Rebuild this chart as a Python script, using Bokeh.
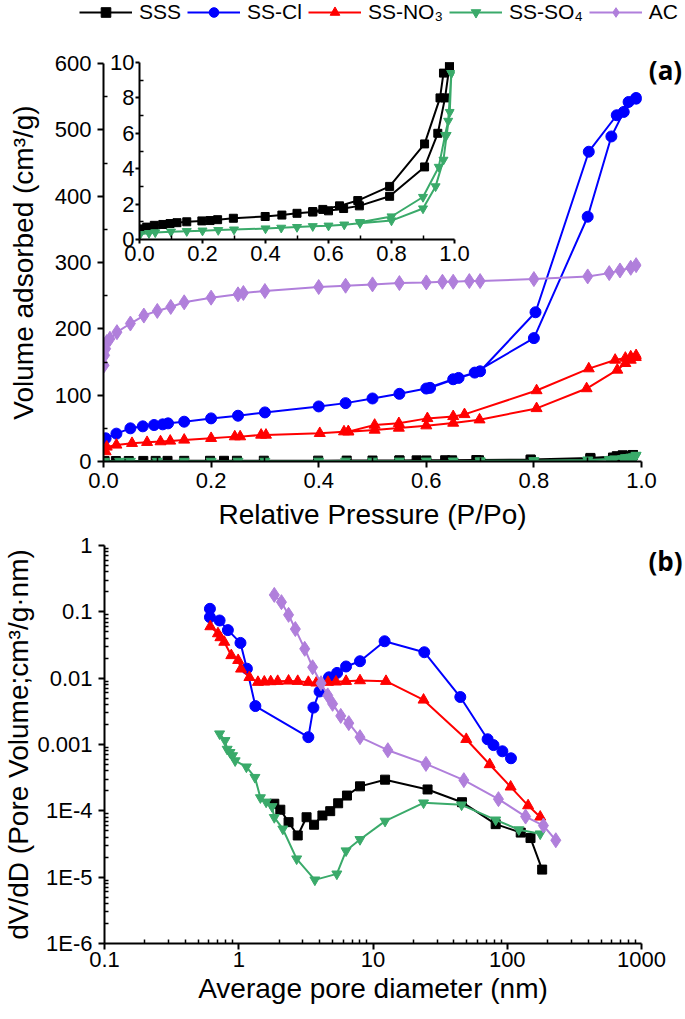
import numpy as np
from bokeh.plotting import figure
from bokeh.models import Range1d, FixedTicker, Legend, LegendItem, Label, CustomJSTickFormatter
from bokeh.embed import file_html
from bokeh.resources import INLINE

# ---------------- data ----------------
legend_labels = ["SSS", "SS-Cl", "SS-NO₃", "SS-SO₄", "AC"]
colors = ["#000000", "#0000ff", "#ff0000", "#3aaa6a", "#b07fdb"]
markers = ["square", "circle", "triangle", "inverted_triangle", "diamond"]
sizes = [9, 11, 11, 10, 15]

# (a) N2 isotherms: relative pressure / volume adsorbed (cm3/g)
sss_ads_p = [0.002, 0.023, 0.047, 0.074, 0.097, 0.119, 0.15, 0.198, 0.224, 0.248, 0.298, 0.399,
             0.452, 0.5, 0.55, 0.6, 0.648, 0.698, 0.794, 0.905, 0.947, 0.97, 0.984]
sss_ads_v = [0.6, 0.7, 0.8, 0.85, 0.9, 0.95, 1.0, 1.05, 1.07, 1.12, 1.2, 1.3,
             1.38, 1.48, 1.55, 1.62, 1.75, 1.9, 2.44, 4.1, 6.0, 8.0, 9.8]
sss_des_p = [0.984, 0.965, 0.954, 0.905, 0.794, 0.693, 0.635, 0.582, 0.55]
sss_des_v = [9.8, 9.4, 8.0, 5.4, 3.0, 2.2, 1.9, 1.7, 1.58]

cl_ads_p = [0.004, 0.024, 0.05, 0.073, 0.094, 0.11, 0.12, 0.15, 0.2, 0.25, 0.3, 0.4, 0.45, 0.5,
            0.55, 0.6, 0.65, 0.69, 0.8, 0.9, 0.944, 0.967, 0.99]
cl_ads_v = [35, 42, 50, 53, 55, 56, 57.5, 60, 65, 69, 74, 83, 88, 95,
            102, 110, 124, 134, 186, 369, 490, 527, 547]
cl_des_p = [0.99, 0.976, 0.954, 0.902, 0.803, 0.7, 0.66, 0.607]
cl_des_v = [548, 542, 522, 467, 225, 136, 126, 111]

no3_ads_p = [0.004, 0.006, 0.024, 0.053, 0.081, 0.106, 0.124, 0.15, 0.2, 0.244, 0.254, 0.293, 0.302,
             0.402, 0.447, 0.455, 0.504, 0.549, 0.6, 0.65, 0.699, 0.805, 0.898, 0.955, 0.97, 0.98, 0.99]
no3_ads_v = [15, 22, 25, 27.5, 29, 30, 31, 32.5, 35, 37.5, 37.5, 40, 40,
             42.5, 45, 45, 47.5, 50.5, 54, 58, 63, 80, 110, 138, 148, 153, 157]
no3_des_p = [0.99, 0.98, 0.97, 0.951, 0.902, 0.805, 0.671, 0.65, 0.602, 0.549, 0.504, 0.455]
no3_des_v = [160, 158, 156, 153, 140, 107, 71, 68, 65, 57.5, 55, 45]

so4_ads_p = [0.002, 0.03, 0.05, 0.1, 0.15, 0.2, 0.25, 0.3, 0.4, 0.45, 0.5, 0.55, 0.6, 0.65, 0.7,
             0.8, 0.9, 0.94, 0.965, 0.975, 0.985, 0.99]
so4_ads_v = [0.3, 0.36, 0.4, 0.44, 0.47, 0.5, 0.53, 0.56, 0.62, 0.66, 0.7, 0.75, 0.78, 0.84, 0.92,
             1.07, 1.75, 3.0, 4.5, 5.9, 7.2, 9.4]
so4_des_p = [0.99, 0.98, 0.97, 0.95, 0.9, 0.8, 0.7]
so4_des_v = [9.4, 6.7, 5.9, 4.1, 2.4, 1.3, 0.98]

ac_p = [0.001, 0.002, 0.004, 0.006, 0.012, 0.025, 0.05, 0.075, 0.1, 0.125, 0.15, 0.2, 0.25, 0.26, 0.3,
        0.4, 0.45, 0.5, 0.55, 0.6, 0.63, 0.65, 0.68, 0.7, 0.8, 0.9, 0.94, 0.96, 0.98, 0.99]
ac_v = [145, 160, 170, 180, 185, 195, 208, 220, 227, 233, 240, 247, 252, 254, 257,
        263, 265, 267, 269, 270, 271, 271, 272, 272, 275, 279, 284, 288, 292, 296]

# (b) pore size distributions: average pore diameter (nm) / dV/dD
psd_sss_d = [1.84, 2.04, 2.35, 2.75, 3.2, 3.64, 4.2, 4.8, 5.5, 6.4, 8.0, 12.3, 25.5, 46, 82, 126, 149, 182]
psd_sss_y = [1.28e-4, 1.04e-4, 6.75e-5, 4.25e-5, 8.0e-5, 6.17e-5, 8.5e-5, 9.89e-5, 1.3e-4, 1.7e-4,
             2.34e-4, 2.95e-4, 2.1e-4, 1.35e-4, 6.3e-5, 4.7e-5, 3.89e-5, 1.3e-5]

psd_cl_d = [0.61, 0.61, 0.72, 0.83, 1.03, 1.15, 1.33, 3.3, 3.6, 4.0, 4.7, 5.4, 6.3, 8.0, 12.2,
            24.1, 44.7, 71.4, 79, 92, 106.6]
psd_cl_y = [0.111, 0.083, 0.074, 0.053, 0.034, 0.0139, 0.0038, 0.00129, 0.0036, 0.0063, 0.0103,
            0.012, 0.015, 0.018, 0.036, 0.0246, 0.0052, 0.0012, 0.00098, 0.00079, 0.00062]

psd_no3_d = [0.614, 0.70, 0.73, 0.78, 0.88, 0.99, 1.04, 1.2, 1.39, 1.55, 1.73, 1.95, 2.35, 2.75,
             3.3, 3.78, 4.62, 5.3, 6.3, 8.0, 12.5, 23.8, 49.5, 74, 106, 143, 176]
psd_no3_y = [0.060, 0.047, 0.041, 0.035, 0.022, 0.0186, 0.0138, 0.0103, 0.0087, 0.0088, 0.0089,
             0.009, 0.0091, 0.009, 0.0087, 0.0085, 0.0087, 0.0088, 0.009, 0.0092, 0.009, 0.0047,
             0.0012, 0.0005, 0.00023, 0.00012, 0.000081]

psd_so4_d = [0.72, 0.79, 0.82, 0.86, 0.9, 0.94, 1.14, 1.32, 1.45, 1.6, 1.77, 1.84, 2.13, 2.7,
             3.69, 5.38, 6.3, 8.0, 12.3, 23.8, 45.7, 82, 122, 176]
psd_so4_y = [0.00145, 0.00115, 0.00085, 0.00076, 0.00068, 0.00057, 0.00046, 0.00032, 0.000158,
             0.000136, 0.000116, 7.95e-5, 5.33e-5, 1.89e-5, 9.1e-6, 1.12e-5, 2.5e-5, 3.7e-5,
             7.0e-5, 1.32e-4, 1.23e-4, 7.3e-5, 5.2e-5, 4.5e-5]

psd_ac_d = [1.84, 2.08, 2.35, 2.64, 3.1, 3.55, 4.1, 4.6, 5.0, 5.75, 6.6, 8.0, 12.9, 24.8, 47.5,
            86, 137, 186, 230]
psd_ac_y = [0.18, 0.14, 0.09, 0.055, 0.0277, 0.0146, 0.0084, 0.0055, 0.0041, 0.0027, 0.0021,
            0.00129, 0.00082, 0.00051, 0.00029, 0.00015, 8.2e-5, 6.0e-5, 3.6e-5]

# tick values
a_x_ticks = [0.0, 0.2, 0.4, 0.6, 0.8, 1.0]
a_x_minor = [0.1, 0.3, 0.5, 0.7, 0.9]
a_y_ticks = [0, 100, 200, 300, 400, 500, 600]
a_y_minor = [50, 150, 250, 350, 450, 550]
in_y_ticks = [0, 2, 4, 6, 8, 10]
in_y_minor = [1, 3, 5, 7, 9]
b_x_ticks = [0.1, 1, 10, 100, 1000]
b_y_ticks = [1e-6, 1e-5, 1e-4, 1e-3, 1e-2, 1e-1, 1]

iso = [
    (sss_ads_p + sss_des_p, sss_ads_v + sss_des_v),
    (cl_ads_p + cl_des_p, cl_ads_v + cl_des_v),
    (no3_ads_p + no3_des_p, no3_ads_v + no3_des_v),
    (so4_ads_p + so4_des_p, so4_ads_v + so4_des_v),
    (ac_p, ac_v),
]
psd = [
    (psd_sss_d, psd_sss_y),
    (psd_cl_d, psd_cl_y),
    (psd_no3_d, psd_no3_y),
    (psd_so4_d, psd_so4_y),
    (psd_ac_d, psd_ac_y),
]

FONT = "Liberation Sans"


def make_fig(**kw):
    p = figure(output_backend="svg", toolbar_location=None, tools="", **kw)
    p.outline_line_color = None
    p.grid.grid_line_color = None
    p.border_fill_alpha = 0
    p.background_fill_alpha = 0
    return p


def style_axes(p, tick_size="22px", title_size="28px", tick_out=6):
    for ax in list(p.xaxis) + list(p.yaxis):
        ax.axis_line_width = 2
        ax.axis_line_color = "black"
        ax.major_tick_line_width = 2
        ax.major_tick_line_color = "black"
        ax.major_tick_out = tick_out
        ax.major_tick_in = 0
        ax.minor_tick_line_width = 1.5
        ax.minor_tick_line_color = "black"
        ax.minor_tick_in = 4
        ax.minor_tick_out = 0
        ax.major_label_text_font = FONT
        ax.major_label_text_font_size = tick_size
        ax.major_label_text_color = "black"
        ax.axis_label_text_font = FONT
        ax.axis_label_text_font_size = title_size
        ax.axis_label_text_font_style = "normal"
        ax.axis_label_text_color = "black"


fixed1 = CustomJSTickFormatter(code="return tick.toFixed(1);")

# ---------------- panel (a) ----------------
pa = make_fig(width=685, height=580, x_range=Range1d(0, 1), y_range=Range1d(0, 600),
              min_border_left=103, min_border_right=44, min_border_top=63, min_border_bottom=119)
pa.styles = {"position": "absolute", "left": "0px", "top": "0px"}
style_axes(pa)
pa.xaxis.ticker = FixedTicker(ticks=a_x_ticks, minor_ticks=a_x_minor)
pa.yaxis.ticker = FixedTicker(ticks=a_y_ticks, minor_ticks=a_y_minor)
pa.xaxis.formatter = fixed1
pa.xaxis.axis_label = "Relative Pressure (P/Po)"
pa.yaxis.axis_label = "Volume adsorbed (cm³/g)"
pa.xaxis.major_label_standoff = 5
pa.xaxis.axis_label_standoff = 8
pa.yaxis.major_label_standoff = 6
pa.yaxis.axis_label_standoff = 13

for (x, y), c, m, s in zip(iso, colors, markers, sizes):
    pa.line(x, y, line_color=c, line_width=2)
    pa.scatter(x, y, marker=m, size=s, fill_color=c, line_color=c)

# ---------------- inset ----------------
pi = make_fig(width=379, height=229, x_range=Range1d(0, 1), y_range=Range1d(0, 10),
              min_border_left=42, min_border_right=22, min_border_top=16, min_border_bottom=36)
pi.styles = {"position": "absolute", "left": "97px", "top": "46px"}
style_axes(pi, tick_out=4)
pi.xaxis.ticker = FixedTicker(ticks=a_x_ticks, minor_ticks=a_x_minor)
pi.yaxis.ticker = FixedTicker(ticks=in_y_ticks, minor_ticks=in_y_minor)
pi.xaxis.formatter = fixed1
pi.xaxis.major_label_standoff = 2
pi.yaxis.major_label_standoff = 1
for idx in (0, 3):
    x, y = iso[idx]
    pi.line(x, y, line_color=colors[idx], line_width=2)
    pi.scatter(x, y, marker=markers[idx], size=sizes[idx] - 1, fill_color=colors[idx],
               line_color=colors[idx])

# ---------------- panel (b) ----------------
pb = make_fig(width=685, height=489, x_axis_type="log", y_axis_type="log",
              x_range=Range1d(0.1, 1000), y_range=Range1d(1e-6, 1),
              min_border_left=103, min_border_right=44, min_border_top=15, min_border_bottom=76)
pb.styles = {"position": "absolute", "left": "0px", "top": "530px"}
style_axes(pb)
b_x_minor = [m * t for t in b_x_ticks[:-1] for m in range(2, 10)]
b_y_minor = [m * t for t in b_y_ticks[:-1] for m in range(2, 10)]
pb.xaxis.ticker = FixedTicker(ticks=b_x_ticks, minor_ticks=b_x_minor)
pb.yaxis.ticker = FixedTicker(ticks=b_y_ticks, minor_ticks=b_y_minor)
pb.xaxis.formatter = CustomJSTickFormatter(code="return String(Number(tick.toPrecision(1)));")
pb.yaxis.formatter = CustomJSTickFormatter(code="""
const e = Math.round(Math.log10(tick));
if (e >= -3) { return String(Number(tick.toPrecision(1))); }
return "1E" + e;
""")
pb.xaxis.axis_label = "Average pore diameter (nm)"
pb.yaxis.axis_label = "dV/dD (Pore Volume;cm³/g·nm)"
pb.xaxis.major_label_standoff = 2
pb.xaxis.axis_label_standoff = 3
pb.yaxis.major_label_standoff = 6
pb.yaxis.axis_label_standoff = 0

for (x, y), c, m, s in zip(psd, colors, markers, sizes):
    pb.line(x, y, line_color=c, line_width=2)
    pb.scatter(x, y, marker=m, size=s, fill_color=c, line_color=c)

# ---------------- overlay: legend and panel letters (page-pixel coordinates) ----------------
po = make_fig(width=685, height=1019, x_range=Range1d(0, 685), y_range=Range1d(1019, 0),
              min_border=0, x_axis_location=None, y_axis_location=None)
po.styles = {"position": "absolute", "left": "0px", "top": "0px"}
items = []
for lab, c, m, s in zip(legend_labels, colors, markers, sizes):
    # legend-only renderers: a single NaN point draws nothing on the canvas
    rl = po.line([np.nan], [np.nan], line_color=c, line_width=2)
    rs = po.scatter([np.nan], [np.nan], marker=m, size=s, fill_color=c, line_color=c)
    items.append(LegendItem(label=lab, renderers=[rl, rs]))
legend = Legend(items=items, orientation="horizontal", location=(79, 995),
                glyph_width=53, glyph_height=24, label_height=24, label_standoff=7, spacing=6,
                padding=0, margin=0, border_line_color=None, background_fill_alpha=0,
                label_text_font=FONT, label_text_font_size="21px", label_text_color="black")
po.add_layout(legend)
for txt, ty in (("(a)", 69), ("(b)", 560)):
    po.add_layout(Label(x=665, y=ty, text=txt, text_align="center", text_baseline="middle",
                        text_font="Open Sans", text_font_style="bold", text_font_size="26px",
                        text_color="black"))

open("out.html", "w").write(file_html([pa, pb, pi, po], INLINE))
